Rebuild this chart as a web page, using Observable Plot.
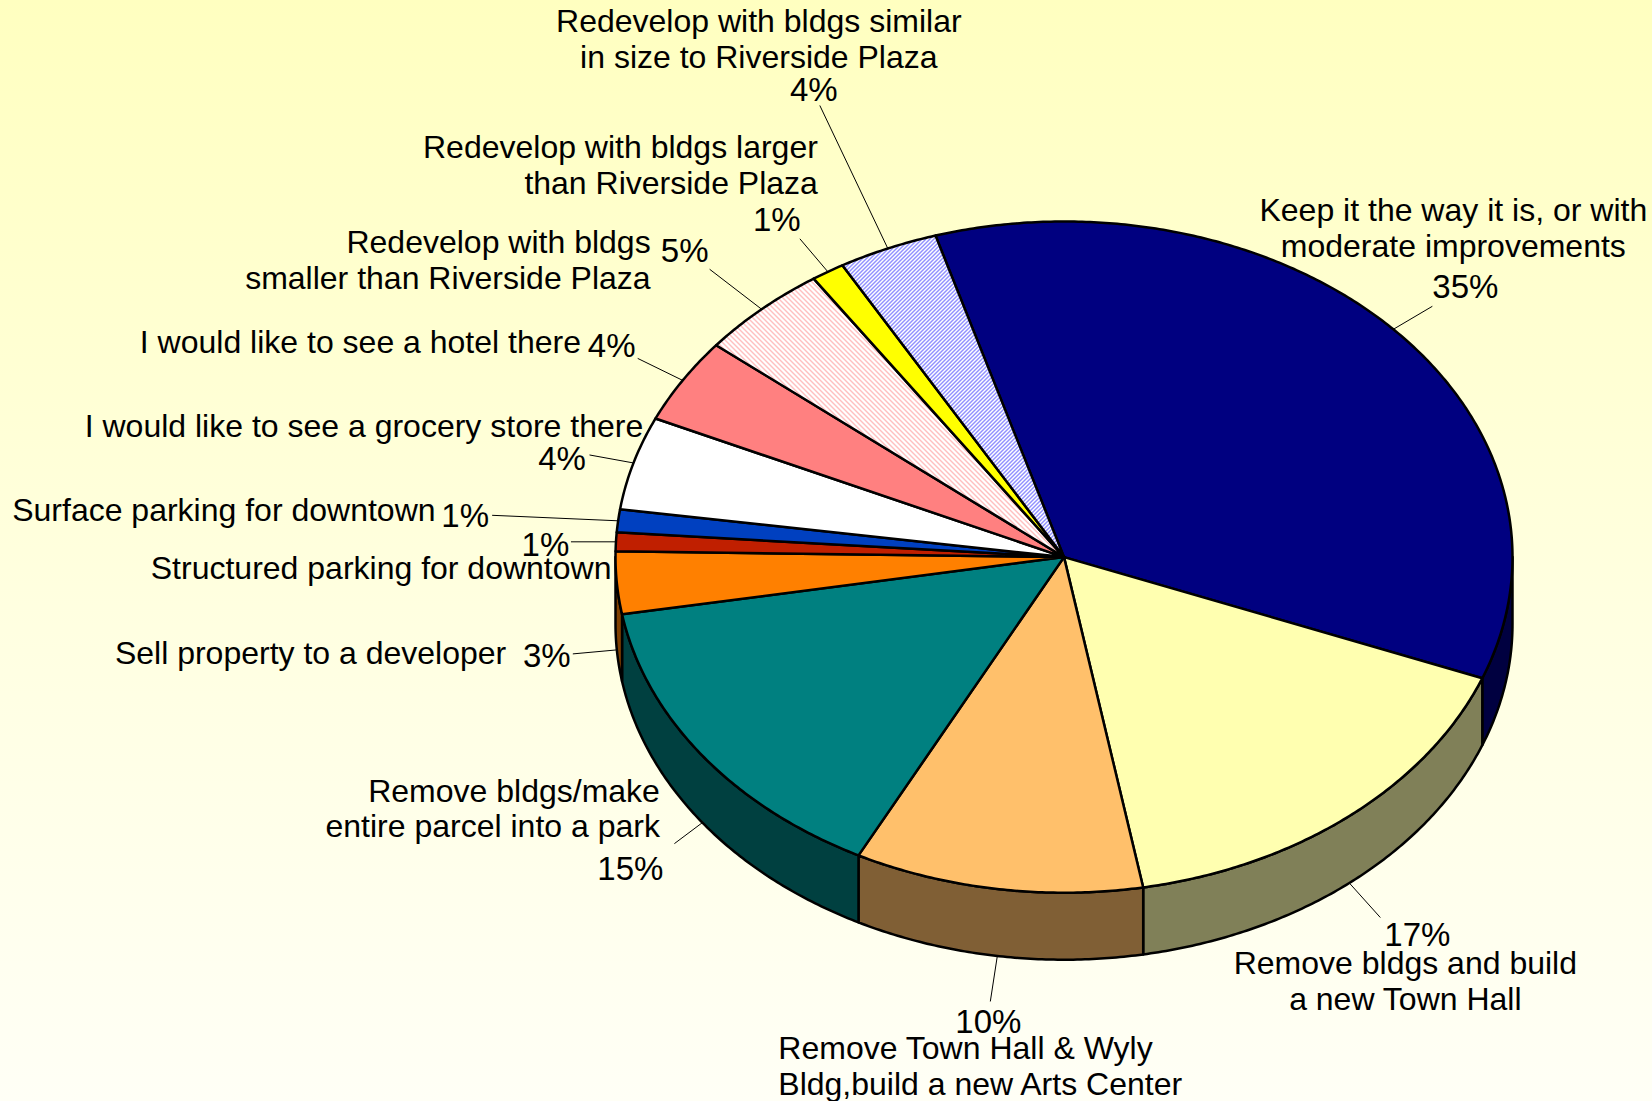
<!DOCTYPE html>
<html>
<head>
<meta charset="utf-8">
<script src="https://cdn.jsdelivr.net/npm/d3@7"></script>
<script src="https://cdn.jsdelivr.net/npm/@observablehq/plot@0.6"></script>
<style>
html, body { margin: 0; padding: 0; }
body {
  width: 1652px; height: 1101px; overflow: hidden;
  background: linear-gradient(to bottom, #FFFFC0 0%, #FFFFE0 55%, #FFFFF6 100%);
}
#chart svg { display: block; }
</style>
</head>
<body>
<div id="chart"></div>
<script>
// ---- data ----
const categories = [
  "Keep it the way it is, or with\nmoderate improvements",
  "Remove bldgs and build\na new Town Hall",
  "Remove Town Hall & Wyly\nBldg,build a new Arts Center",
  "Remove bldgs/make\nentire parcel into a park",
  "Sell property to a developer",
  "Structured parking for downtown",
  "Surface parking for downtown",
  "I would like to see a grocery store there",
  "I would like to see a hotel there",
  "Redevelop with bldgs\nsmaller than Riverside Plaza",
  "Redevelop with bldgs larger\nthan Riverside Plaza",
  "Redevelop with bldgs similar\nin size to Riverside Plaza"
];
const values = [35.5, 16.3, 10.4, 14.7, 3.0, 0.9, 1.1, 4.5, 4.1, 4.7, 1.2, 3.6];
const percentLabels = ["35%", "17%", "10%", "15%", "3%", "1%", "1%", "4%", "4%", "5%", "1%", "4%"];

// ---- styles ----
const topColors = ["#000080", "#FFFFB0", "#FFC06B", "#008080", "#FF8000", "#C01F00", "#0040C0",
                   "#FFFFFF", "#FF8080", "url(#hatchPink)", "#FFFF00", "url(#hatchBlue)"];
const sideColors = ["#000040", "#808058", "#805F35", "#004040", "#804000", "#601000", "#002060",
                    "#808080", "#804040", "#808080", "#808000", "#808080"];

// ---- layout ----
const W = 1652, H = 1101;
const geom = {cx: 1063.5, cy: 556.6, rx: 448.5, ry: 335.6, depth: 67, start: 343.35};
// offsets: leader end from leader start; percent (baseline) and name (cap top) from leader end
const labelLayout = [
  {leader: [39, -23],   pct: [33, -8],     name: [21, -108],   anchor: "middle"},
  {leader: [31, 34.5],  pct: [37, 28],     name: [25, 34],     anchor: "middle"},
  {leader: [-7, 45.5],  pct: [-2, 32],     name: [-212, 35],   anchor: "start"},
  {leader: [-28, 21],   pct: [-44, 36],    name: [-14.5, -65], anchor: "end"},
  {leader: [-44, 4],    pct: [-26, 12.6],  name: [-66.6, -12.4], anchor: "end"},
  {leader: [-45, 0],    pct: [-25.5, 14],  name: [40.5, 14.7], anchor: "end"},
  {leader: [-126, -5.5], pct: [-27, 12],   name: [-56.6, -16.8], anchor: "end"},
  {leader: [-44, -8],   pct: [-27.5, 15.5], name: [53.7, -40.5], anchor: "end"},
  {leader: [-45, -22],  pct: [-26, -1],    name: [-56.7, -28], anchor: "end"},
  {leader: [-52, -40],  pct: [-25, -7],    name: [-59, -39],   anchor: "end"},
  {leader: [-28, -33],  pct: [-23, -8],    name: [18, -104],   anchor: "end"},
  {leader: [-68, -143], pct: [-6, -4],     name: [-61, -96],   anchor: "middle"}
];
const fontFamily = "'Liberation Sans', Arial, Helvetica, sans-serif";
const nameSize = 32, pctSize = 33, lineH = 1.12;

// ---- geometry from values ----
const total = d3.sum(values);
const rad = a => a * Math.PI / 180;
const pt = (a, dz = 0) => [geom.cx + geom.rx * Math.sin(rad(a)), geom.cy - geom.ry * Math.cos(rad(a)) + dz];
let acc = geom.start;
const slices = categories.map((name, i) => {
  const span = values[i] / total * 360;
  const a0 = acc, a1 = acc + span;
  acc = a1;
  return {i, name, a0, a1, mid: (a0 + a1) / 2};
});
function arc(a0, a1, dz) {
  const n = Math.max(2, Math.ceil((a1 - a0) / 0.5));
  return d3.range(n + 1).map(k => pt(a0 + (a1 - a0) * k / n, dz));
}
const polys = [];
slices.forEach(s => {
  for (const [f0, f1] of [[90, 270], [450, 630]]) {
    const b0 = Math.max(s.a0, f0), b1 = Math.min(s.a1, f1);
    if (b1 > b0) {
      const ring = [...arc(b0, b1, 0), ...arc(b0, b1, geom.depth).reverse()];
      ring.push(ring[0]);
      ring.forEach(([x, y]) => polys.push({id: `side-${s.i}-${f0}`, x, y, fill: sideColors[s.i]}));
    }
  }
});
slices.forEach(s => {
  const c = [geom.cx, geom.cy];
  const ring = [c, ...arc(s.a0, s.a1, 0), c];
  ring.forEach(([x, y]) => polys.push({id: `top-${s.i}`, x, y, fill: topColors[s.i]}));
});

const labels = slices.map(s => {
  const L = labelLayout[s.i];
  const front = Math.cos(rad(s.mid)) < 0;
  const [sx, sy] = pt(s.mid, front ? geom.depth : 0);
  const ex = sx + L.leader[0], ey = sy + L.leader[1];
  return {
    sx, sy, ex, ey,
    px: ex + L.pct[0], py: ey + L.pct[1], pct: percentLabels[s.i],
    nx: ex + L.name[0], ny: ey + L.name[1] - (0.71 * lineH - 0.716) * nameSize,
    name: s.name, anchor: L.anchor
  };
});

const chart = Plot.plot({
  width: W, height: H, margin: 0,
  x: {domain: [0, W], range: [0, W], axis: null},
  y: {domain: [0, H], range: [0, H], axis: null},
  color: {type: "identity"},
  style: {background: "transparent", overflow: "visible"},
  marks: [
    Plot.line(polys, {x: "x", y: "y", z: "id", fill: "fill", stroke: "black", strokeWidth: 2.5,
                      strokeLinejoin: "round", curve: "linear"}),
    Plot.link(labels, {x1: "sx", y1: "sy", x2: "ex", y2: "ey", stroke: "black", strokeWidth: 1}),
    Plot.text(labels, {x: "px", y: "py", text: "pct", fontSize: pctSize, lineAnchor: "bottom",
                       textAnchor: "middle", fill: "black", fontFamily}),
    ...["start", "middle", "end"].map(a => Plot.text(labels.filter(d => d.anchor === a), {
      x: "nx", y: "ny", text: "name", textAnchor: a, lineAnchor: "top", lineHeight: lineH,
      fontSize: nameSize, fill: "black", fontFamily
    }))
  ]
});

// hatch patterns
const svg = d3.select(chart);
const defs = svg.insert("defs", ":first-child");
function hatch(id, color, size, dir) {
  const p = defs.append("pattern").attr("id", id).attr("patternUnits", "userSpaceOnUse")
    .attr("width", size).attr("height", size);
  p.append("rect").attr("width", size).attr("height", size).attr("fill", "white");
  const s = size;
  const d = dir === "/"
    ? `M-1,1L1,-1M0,${s}L${s},0M${s - 1},${s + 1}L${s + 1},${s - 1}`
    : `M-1,${s - 1}L1,${s + 1}M0,0L${s},${s}M${s - 1},-1L${s + 1},1`;
  p.append("path").attr("d", d).attr("stroke", color).attr("stroke-width", 1)
    .attr("shape-rendering", "crispEdges");
}
hatch("hatchBlue", "#2020FF", 4, "/");
hatch("hatchPink", "#FF8080", 5, "\\");

document.getElementById("chart").appendChild(chart);
</script>
</body>
</html>
